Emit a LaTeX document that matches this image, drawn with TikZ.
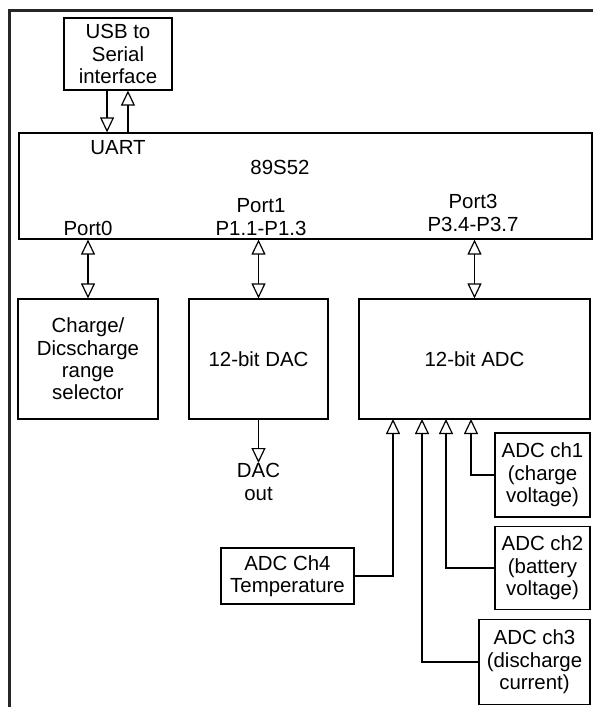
\documentclass[tikz,border=0pt]{standalone}
\usepackage{fontspec}
\setmainfont{Liberation Sans}
\usetikzlibrary{arrows.meta,positioning}

\begin{document}
\begin{tikzpicture}[x=1bp,y=-1bp,line width=1.2bp,
	block/.style={draw, align=center, inner sep=0pt, font=\fontsize{20.5}{22.5}\selectfont},
	lbl/.style={align=center, inner sep=0pt, font=\fontsize{20.5}{22.5}\selectfont},
	intip/.style={-{Triangle[open,length=15bp,width=14bp]}},
	bidir/.style={{Triangle[open,length=15bp,width=14bp]}-{Triangle[open,length=15bp,width=14bp]}},
	frame/.style={line width=3bp, draw=black!85}]

% ---------- Parameters of the drawing ----------
\def\UartShift{11}      % Horizontal offset of the two UART lines
\def\LowerRowY{359}     % Vertical centre of the lower row of blocks
\def\LowerRowHeight{120}

% (0,0) coordinate = upper left corner of the picture, y grows downwards
\useasboundingbox (0,0) rectangle (593,707);

% ---------- Frame ----------
\draw[frame] (9,707) -- (9,11) -- (593,11);

% ---------- Upper blocks ----------
\node[block, minimum width=108bp, minimum height=72bp] (usb) at (118,54) {USB to\\Serial\\interface};
\node[block, minimum width=573bp, minimum height=106bp] (mcu) at (305.5,186) {};

% Labels inside the controller
\node[lbl] (uart) at (118,148) {UART};
\node[lbl] (chip) at (280,167) {89S52};
\node[lbl] (port0) at (88,228) {Port0};
\node[lbl] (port1) at (261,217) {Port1\\P1.1-P1.3};
\node[lbl] (port3) at (473,213) {Port3\\P3.4-P3.7};

% ---------- Lower row ----------
\node[block, minimum width=140bp, minimum height=\LowerRowHeight bp] (sel) at (88,\LowerRowY) {Charge/\\Dicscharge\\range\\selector};
\node[block, minimum width=139bp, minimum height=\LowerRowHeight bp] (dac) at (258.5,\LowerRowY) {12-bit DAC};
\node[block, minimum width=231bp, minimum height=\LowerRowHeight bp] (adc) at (474.5,\LowerRowY) {12-bit ADC};
\node[lbl, anchor=north] (dacout) at (258.5,463) {DAC\\out};

% ---------- ADC channels ----------
\node[block, minimum width=95bp, minimum height=84bp] (ch1) at (542.5,475) {ADC ch1\\(charge\\voltage)};
\node[block, minimum width=95bp, minimum height=83bp] (ch2) at (542.5,568) {ADC ch2\\(battery\\voltage)};
\node[block, minimum width=111bp, minimum height=85bp] (ch3) at (534.5,662) {ADC ch3\\(discharge\\current)};
\node[block, minimum width=133bp, minimum height=56bp] (ch4) at (287.5,576) {ADC Ch4\\Temperature};

% Entry points on the bottom of the ADC
\coordinate (in4) at (393,419);
\coordinate (in3) at (422,419);
\coordinate (in2) at (446,419);
\coordinate (in1) at (471,419);

% ---------- Connections ----------
% UART
\draw[intip] ([xshift=-\UartShift]usb.south) -- ([xshift=-\UartShift]usb.south |- mcu.north);
\draw[intip] ([xshift=\UartShift-1]usb.south |- mcu.north) -- ([xshift=\UartShift-1]usb.south);

% Ports
\draw[bidir] (sel.north |- mcu.south) -- (sel.north);
\draw[bidir] (dac.north |- mcu.south) -- (dac.north);
\draw[bidir] (adc.north |- mcu.south) -- (adc.north);

% DAC output
\draw[intip] (dac.south) -- (dacout.north);

% ADC inputs
\draw[intip] (ch1.west) -| (in1);
\draw[intip] (ch2.west) -| (in2);
\draw[intip] (ch3.west) -| (in3);
\draw[intip] (ch4.east) -| (in4);

\end{tikzpicture}
\end{document}
